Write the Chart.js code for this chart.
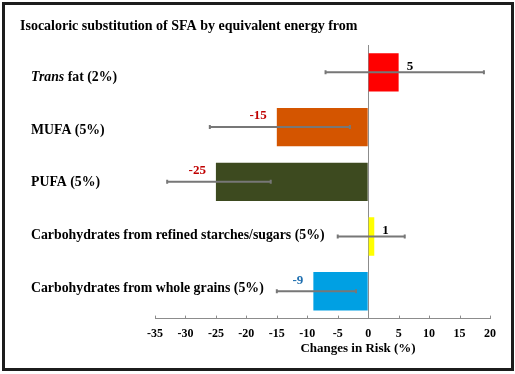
<!DOCTYPE html>
<html>
<head>
<meta charset="utf-8">
<script src="https://cdn.jsdelivr.net/npm/chart.js@4/dist/chart.umd.min.js"></script>
<style>
  body { margin: 0; background: #fff; }
  #frame { position: absolute; left: 2px; top: 2px; width: 512px; height: 369px; border: 3px solid #1c1c1c; box-sizing: border-box; }
  #wrap { position: absolute; left: 0; top: 0; width: 515px; height: 374px; }
</style>
</head>
<body>
<div id="frame"></div>
<div id="wrap"><canvas id="riskChart" width="515" height="374"></canvas></div>
<script>
const title = 'Isocaloric substitution of SFA by equivalent energy from';
const xTitle = 'Changes in Risk (%)';
const categories = [
  'Trans fat (2%)',
  'MUFA (5%)',
  'PUFA (5%)',
  'Carbohydrates from refined starches/sugars (5%)',
  'Carbohydrates from whole grains (5%)'
];
const riskChange = [5, -15, -25, 1, -9];
const ciLow = [-7, -26, -33, -5, -15];
const ciHigh = [19, -3, -16, 6, -2];
const barColors = ['#ff0000', '#d45500', '#3d4a1f', '#ffff00', '#00a0e3'];
const labelColors = ['#000000', '#c00000', '#c00000', '#000000', '#1f6fb0'];

const serif = '"Liberation Serif", "Times New Roman", serif';

// title, axis title, category names (Trans in italics) and tick marks
const textPlugin = {
  id: 'sideText',
  afterDraw(chart) {
    const ctx = chart.ctx;
    const yScale = chart.scales.y;
    const xScale = chart.scales.x;
    const yAxis = chart.chartArea.bottom;
    ctx.save();
    ctx.fillStyle = '#000';
    ctx.textBaseline = 'middle';
    ctx.textAlign = 'left';
    ctx.font = 'bold 14px ' + serif;
    ctx.fillText(title, 20, 26);

    categories.forEach((name, i) => {
      // names sit on a slightly tighter spacing than the bars
      const y = yScale.getPixelForValue(i) + 1 + (2 - i) * 2;
      let x = 31;
      let rest = name;
      if (name.startsWith('Trans ')) {
        ctx.font = 'italic bold 13.8px ' + serif;
        ctx.fillText('Trans', x, y);
        x += ctx.measureText('Trans').width;
        rest = name.slice(5);
      }
      ctx.font = 'bold 13.8px ' + serif;
      ctx.fillText(rest, x, y);
    });

    ctx.textAlign = 'center';
    ctx.font = 'bold 13px ' + serif;
    ctx.fillText(xTitle, 358, yAxis + 30);

    ctx.strokeStyle = '#8c8c8c';
    ctx.lineWidth = 1;
    ctx.beginPath();
    xScale.ticks.forEach(t => {
      const x = Math.round(xScale.getPixelForValue(t.value)) + 0.5;
      ctx.moveTo(x, yAxis - 3);
      ctx.lineTo(x, yAxis);
    });
    ctx.stroke();
    ctx.restore();
  }
};

// confidence intervals and value labels
const errorPlugin = {
  id: 'errorBars',
  afterDatasetsDraw(chart) {
    const ctx = chart.ctx;
    const xs = chart.scales.x;
    const ys = chart.scales.y;
    ctx.save();
    ctx.strokeStyle = '#777777';
    ctx.lineWidth = 2;
    riskChange.forEach((v, i) => {
      const y = ys.getPixelForValue(i);
      const x1 = xs.getPixelForValue(ciLow[i]);
      const x2 = xs.getPixelForValue(ciHigh[i]);
      ctx.beginPath();
      ctx.moveTo(x1, y); ctx.lineTo(x2, y);
      ctx.moveTo(x1, y - 2); ctx.lineTo(x1, y + 2);
      ctx.moveTo(x2, y - 2); ctx.lineTo(x2, y + 2);
      ctx.stroke();

      const xe = xs.getPixelForValue(v);
      ctx.font = 'bold 13px ' + serif;
      ctx.fillStyle = labelColors[i];
      ctx.textBaseline = 'middle';
      if (v >= 0) {
        ctx.textAlign = 'left';
        ctx.fillText(String(v), xe + 8, y - 6);
      } else {
        ctx.textAlign = 'right';
        ctx.fillText(String(v), xe - 10, y - 11);
      }
    });
    ctx.restore();
  }
};

new Chart(document.getElementById('riskChart'), {
  type: 'bar',
  data: {
    labels: categories,
    datasets: [{
      data: riskChange,
      backgroundColor: barColors,
      borderWidth: 0,
      barPercentage: 0.7,
      categoryPercentage: 1.0
    }]
  },
  options: {
    indexAxis: 'y',
    responsive: false,
    animation: false,
    layout: { padding: { left: 155, right: 25, top: 45, bottom: 25 } },
    plugins: {
      legend: { display: false },
      tooltip: { enabled: false }
    },
    scales: {
      x: {
        min: -35,
        max: 20,
        ticks: {
          stepSize: 5,
          padding: 8,
          color: '#000',
          font: { family: serif, size: 12, weight: 'bold' }
        },
        grid: { drawOnChartArea: false, drawTicks: false },
        border: { display: true, color: '#8c8c8c', width: 1 }
      },
      y: {
        position: { x: 0 },
        ticks: { display: false },
        grid: { display: false },
        border: { display: true, color: '#8c8c8c', width: 1 }
      }
    }
  },
  plugins: [textPlugin, errorPlugin]
});
</script>
</body>
</html>
